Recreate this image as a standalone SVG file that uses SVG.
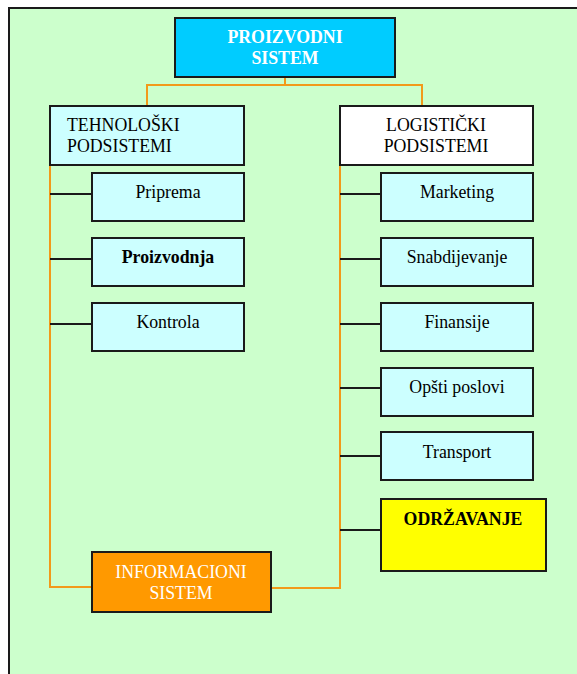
<svg xmlns="http://www.w3.org/2000/svg" width="577" height="674" viewBox="0 0 577 674">
<style>
  .box{stroke:#1a1a1a;stroke-width:2}
  .cy{fill:#CCFFFF}
  .t{font-family:"Liberation Serif","Times New Roman",serif;font-size:17.8px;fill:#000}
  .c{text-anchor:middle}
  .b{font-weight:bold}
  .w{fill:#fff}
  .or{stroke:#F29A1A;stroke-width:2;fill:none}
  .bl{stroke:#1a1a1a;stroke-width:2;fill:none}
</style>
<rect x="0" y="0" width="577" height="674" fill="#fff"/>
<rect x="9" y="8" width="580" height="680" fill="#CCFFCC" stroke="#1a1a1a" stroke-width="2"/>
<g id="connectors">
  <path class="or" d="M285 77 V85 M147 106 V85 H422 V106"/>
  <path class="or" d="M50 165 V587 H92"/>
  <path class="or" d="M340 165 V588 H271"/>
  <path class="bl" d="M50 194 H92 M50 259 H92 M50 324 H92"/>
  <path class="bl" d="M340 194 H381 M340 259 H381 M340 324 H381 M340 388 H381 M340 456 H381 M340 530 H381"/>
</g>
<g id="proizvodni">
  <rect class="box" x="175" y="18" width="220" height="59" fill="#00CCFF"/>
  <text class="t c b w" x="285" y="43">PROIZVODNI</text>
  <text class="t c b w" x="285" y="64">SISTEM</text>
</g>
<g id="tehnoloski">
  <rect class="box cy" x="50" y="106" width="194" height="59"/>
  <text class="t" x="67" y="131">TEHNOLOŠKI</text>
  <text class="t" x="67" y="152">PODSISTEMI</text>
</g>
<g id="logisticki">
  <rect class="box" x="340" y="106" width="193" height="59" fill="#fff"/>
  <text class="t c" x="436" y="131">LOGISTIČKI</text>
  <text class="t c" x="436" y="152">PODSISTEMI</text>
</g>
<g id="priprema">
  <rect class="box cy" x="92" y="173" width="152" height="48"/>
  <text class="t c" x="168" y="198">Priprema</text>
</g>
<g id="proizvodnja">
  <rect class="box cy" x="92" y="238" width="152" height="48"/>
  <text class="t c b" x="168" y="263">Proizvodnja</text>
</g>
<g id="kontrola">
  <rect class="box cy" x="92" y="303" width="152" height="48"/>
  <text class="t c" x="168" y="328">Kontrola</text>
</g>
<g id="marketing">
  <rect class="box cy" x="381" y="173" width="152" height="48"/>
  <text class="t c" x="457" y="198">Marketing</text>
</g>
<g id="snabdijevanje">
  <rect class="box cy" x="381" y="238" width="152" height="48"/>
  <text class="t c" x="457" y="263">Snabdijevanje</text>
</g>
<g id="finansije">
  <rect class="box cy" x="381" y="303" width="152" height="48"/>
  <text class="t c" x="457" y="328">Finansije</text>
</g>
<g id="opsti">
  <rect class="box cy" x="381" y="368" width="152" height="48"/>
  <text class="t c" x="457" y="393">Opšti poslovi</text>
</g>
<g id="transport">
  <rect class="box cy" x="381" y="432" width="152" height="48"/>
  <text class="t c" x="457" y="458">Transport</text>
</g>
<g id="odrzavanje">
  <rect class="box" x="381" y="499" width="165" height="72" fill="#FFFF00"/>
  <text class="t c b" x="463" y="525">ODRŽAVANJE</text>
</g>
<g id="informacioni">
  <rect class="box" x="92" y="552" width="179" height="60" fill="#FF9900"/>
  <text class="t c w" x="181" y="578">INFORMACIONI</text>
  <text class="t c w" x="181" y="599">SISTEM</text>
</g>
</svg>
